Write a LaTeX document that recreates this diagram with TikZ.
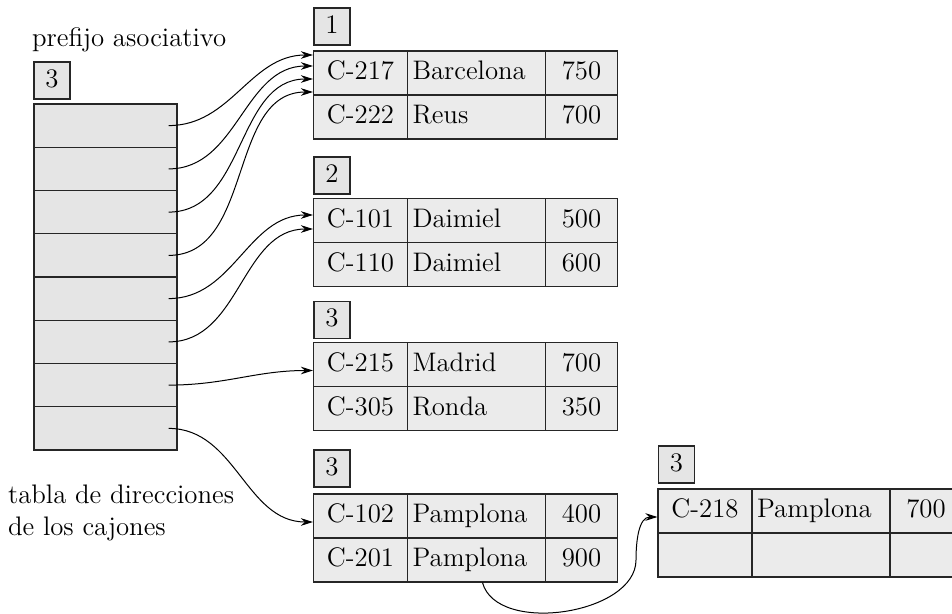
\documentclass[tikz,border=0pt]{standalone}
\usetikzlibrary{arrows.meta,positioning}
\begin{document}
\begin{tikzpicture}[
      x=.5pt,y=.5pt,
      every node/.style={font=\fontsize{13.4}{16}\selectfont},
      ptr/.style={-{Stealth[length=6pt,width=3.8pt]},draw=black,line width=.5pt},
      slot/.style={draw=black!85,fill=black!10,line width=.6pt,inner sep=0pt,
        minimum width=71.5pt,minimum height=21.6pt},
      depth/.style={draw=black!85,fill=black!10,line width=.6pt,inner sep=0pt,
        text height=1.6ex,text depth=0pt,minimum width=18pt,minimum height=18.5pt},
      key/.style={draw=black!85,fill=black!8,line width=.6pt,inner sep=0pt,
        text height=1.6ex,text depth=0pt,minimum width=47pt,minimum height=22pt},
      city/.style={draw=black!85,fill=black!8,line width=.6pt,inner ysep=0pt,inner xsep=2.5pt,
        text height=1.6ex,text depth=0pt,text width=64pt,align=left,minimum height=22pt},
      bal/.style={draw=black!85,fill=black!8,line width=.6pt,inner sep=0pt,
        text height=1.6ex,text depth=0pt,minimum width=36pt,minimum height=22pt}]
    \useasboundingbox (0,0) rectangle (952,-614);
    \clip (0,0) rectangle (952,-614);

    % bucket address table
    \node[anchor=base west] (pfx) at (25,-47) {prefijo asociativo};
    \node[depth] (gd) at (52,-80.5) {3};
    \node[slot] (r1) at (105.5,-125.6) {};
    \node[slot] (r2) at (105.5,-168.9) {};
    \node[slot] (r3) at (105.5,-212.1) {};
    \node[slot] (r4) at (105.5,-255.4) {};
    \node[slot] (r5) at (105.5,-298.6) {};
    \node[slot] (r6) at (105.5,-341.9) {};
    \node[slot] (r7) at (105.5,-385.1) {};
    \node[slot] (r8) at (105.5,-428.4) {};
    \node[anchor=west,align=left] (tbl) at (1,-513) {tabla de direcciones\\de los cajones};

    % bucket 1
    \node[depth] (d1) at (332,-26.5) {1};
    \node[key]  (b1k1) at (360.5,-73) {C-217};
    \node[city] (b1c1) at (476.5,-73) {Barcelona};
    \node[bal]  (b1s1) at (581.5,-73) {750};
    \node[key]  (b1k2) at (360.5,-117) {C-222};
    \node[city] (b1c2) at (476.5,-117) {Reus};
    \node[bal]  (b1s2) at (581.5,-117) {700};

    % bucket 2
    \node[depth] (d2) at (332,-175.5) {2};
    \node[key]  (b2k1) at (360.5,-220.5) {C-101};
    \node[city] (b2c1) at (476.5,-220.5) {Daimiel};
    \node[bal]  (b2s1) at (581.5,-220.5) {500};
    \node[key]  (b2k2) at (360.5,-264.5) {C-110};
    \node[city] (b2c2) at (476.5,-264.5) {Daimiel};
    \node[bal]  (b2s2) at (581.5,-264.5) {600};

    % bucket 3
    \node[depth] (d3) at (332,-320) {3};
    \node[key]  (b3k1) at (360.5,-364.5) {C-215};
    \node[city] (b3c1) at (476.5,-364.5) {Madrid};
    \node[bal]  (b3s1) at (581.5,-364.5) {700};
    \node[key]  (b3k2) at (360.5,-408.5) {C-305};
    \node[city] (b3c2) at (476.5,-408.5) {Ronda};
    \node[bal]  (b3s2) at (581.5,-408.5) {350};

    % bucket 4
    \node[depth] (d4) at (332,-468.5) {3};
    \node[key]  (b4k1) at (360.5,-516) {C-102};
    \node[city] (b4c1) at (476.5,-516) {Pamplona};
    \node[bal]  (b4s1) at (581.5,-516) {400};
    \node[key]  (b4k2) at (360.5,-560) {C-201};
    \node[city] (b4c2) at (476.5,-560) {Pamplona};
    \node[bal]  (b4s2) at (581.5,-560) {900};

    % overflow bucket
    \node[depth] (d5) at (676.5,-464.5) {3};
    \node[key]  (ovk1) at (705,-511) {C-218};
    \node[city] (ovc1) at (821,-511) {Pamplona};
    \node[bal]  (ovs1) at (926,-511) {700};
    \node[key]  (ovk2) at (705,-555) {};
    \node[city] (ovc2) at (821,-555) {};
    \node[bal]  (ovs2) at (926,-555) {};

    \draw[ptr] ([xshift=-4.5pt]r1.east) to[out=0,in=180] ([yshift=9pt]b1k1.west);
    \draw[ptr] ([xshift=-4.5pt]r2.east) to[out=0,in=180] ([yshift=3.5pt]b1k1.west);
    \draw[ptr] ([xshift=-4.5pt]r3.east) to[out=0,in=180] ([yshift=-3pt]b1k1.west);
    \draw[ptr] ([xshift=-4.5pt]r4.east) to[out=0,in=180] ([yshift=-9.5pt]b1k1.west);
    \draw[ptr] ([xshift=-4.5pt]r5.east) to[out=0,in=180] ([yshift=2.75pt]b2k1.west);
    \draw[ptr] ([xshift=-4.5pt]r6.east) to[out=0,in=180] ([yshift=-4.25pt]b2k1.west);
    \draw[ptr] ([xshift=-4.5pt]r7.east) to[out=0,in=180] ([yshift=-3pt]b3k1.west);
    \draw[ptr] ([xshift=-4.5pt]r8.east) to[out=0,in=180] ([yshift=-3pt]b4k1.west);
    \coordinate (ovbend) at (636,-560);
    \draw[ptr] ([xshift=3pt]b4c2.south) to[out=-75,in=-90,looseness=.9] (ovbend)
      to[out=90,in=180] ([yshift=-3pt]ovk1.west);
  \end{tikzpicture}
\end{document}
